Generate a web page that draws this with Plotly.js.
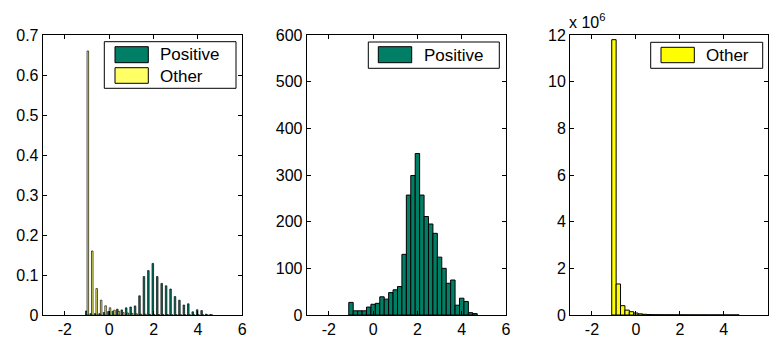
<!DOCTYPE html>
<html>
<head>
<meta charset="utf-8">
<script src="https://cdn.plot.ly/plotly-3.0.1.min.js"></script>
<style>html,body{margin:0;padding:0;background:#fff;}#chart{width:772px;height:340px;}</style>
</head>
<body>
<div id="chart"></div>
<script>
// Bin centres shared by all three histograms
var binCenters = [-1.0,-0.8,-0.6,-0.4,-0.2,0.0,0.2,0.4,0.6,0.8,1.0,1.2,1.4,1.6,1.8,2.0,2.2,2.4,2.6,2.8,3.0,3.2,3.4,3.6,3.8,4.0,4.2,4.4,4.6];

// Left panel: normalised frequencies
var positiveFreq = [0.010,0.0034,0.0034,0.0034,0.0063,0.0086,0.0093,0.0145,0.0127,0.0179,0.020,0.0227,0.048,0.096,0.111,0.129,0.096,0.079,0.073,0.065,0.046,0.037,0.025,0.028,0.008,0.013,0.011,0.002,0.001];
var otherFreq = [0.66,0.16,0.066,0.037,0.023,0.018,0.012,0.009,0.006,0.005,0.004,0.003,0.002,0.002,0.0015,0.001,0.001,0.001,0.0008,0.0006,0.0005,0.0004,0.0003,0.0002,0.0002,0.0001,0.0001,0.0001,0.0001];

// Middle panel: Positive counts
var positiveCounts = [27,9,9,9,17,23,25,39,34,48,54,61,130,257,299,346,257,211,195,175,124,100,68,75,21,36,29,5,3];

// Right panel: Other counts
var otherCounts = [11800000,1330000,400000,210000,140000,85000,50000,30000,20000,15000,12000,10000,9000,8000,7000,6000,6000,5000,5000,4000,4000,4000,3000,3000,3000,2000,2000,2000,2000];

// Tick labels
var xTicks = [-2,0,2,4,6];
var xLabels = ['-2','0','2','4','6'];
var leftYTicks = [0,0.1,0.2,0.3,0.4,0.5,0.6,0.7];
var leftYLabels = ['0','0.1','0.2','0.3','0.4','0.5','0.6','0.7'];
var midYTicks = [0,100,200,300,400,500,600];
var midYLabels = ['0','100','200','300','400','500','600'];
var rightYTicks = [0,2e6,4e6,6e6,8e6,10e6,12e6];
var rightYLabels = ['0','2','4','6','8','10','12'];

var seriesNames = ['Positive','Other'];

var W = 772, H = 340;
function px(x){return x/W;}
function py(y){return 1 - y/H;}

var teal = 'rgb(0,127,102)';
var lightYellow = 'rgb(255,255,102)';
var yellow = 'rgb(255,255,0)';
var font = {family:'"Liberation Sans", Arial, sans-serif', size:16, color:'#000'};

var traces = [
  {type:'bar', x:binCenters, y:positiveFreq, name:seriesNames[0], xaxis:'x', yaxis:'y',
   marker:{color:teal, line:{color:'rgba(0,0,0,0.85)', width:0.8}}, showlegend:false},
  {type:'bar', x:binCenters, y:otherFreq, name:seriesNames[1], xaxis:'x', yaxis:'y',
   marker:{color:lightYellow, line:{color:'rgba(0,0,0,0.85)', width:0.8}}, showlegend:false},
  {type:'bar', x:binCenters, y:positiveCounts, name:seriesNames[0], xaxis:'x2', yaxis:'y2',
   marker:{color:teal, line:{color:'#000', width:1}}, showlegend:false, width:0.2},
  {type:'bar', x:binCenters, y:otherCounts, name:seriesNames[1], xaxis:'x3', yaxis:'y3',
   marker:{color:yellow, line:{color:'#000', width:1}}, showlegend:false, width:0.2}
];

var yDom = [py(315), py(35)];
function xax(dom, anchor){
  return {domain:dom, anchor:anchor, range:[-3,6], tickvals:xTicks, ticktext:xLabels, ticks:'inside', ticklen:4,
    tickcolor:'#000', showline:true, linecolor:'#000', linewidth:1, mirror:'ticks',
    showgrid:false, zeroline:false, tickfont:font, fixedrange:true};
}
function yax(anchor, range, tv, tt){
  return {domain:yDom, anchor:anchor, range:range, tickvals:tv, ticktext:tt, ticks:'inside', ticklen:4,
    tickcolor:'#000', showline:true, linecolor:'#000', linewidth:1, mirror:'ticks',
    showgrid:false, zeroline:false, tickfont:font, fixedrange:true};
}

var shapes = [];
var annotations = [];
function box(x0,y0,x1,y1,fill,lw){
  shapes.push({type:'rect', xref:'paper', yref:'paper', x0:px(x0), x1:px(x1), y0:py(y1), y1:py(y0),
    fillcolor:fill, line:{color:'#000', width:lw}});
}
function label(x,y,t){
  annotations.push({xref:'paper', yref:'paper', x:px(x), y:py(y), text:t, showarrow:false,
    xanchor:'left', yanchor:'middle', font:{family:font.family, size:17, color:'#000'}});
}
// Left legend
box(104.3,41.7,236,88.3,'#fff',1);
box(115,46.7,148.3,62.7,teal,1); label(158,55,seriesNames[0]);
box(115,67.7,148.3,83.3,lightYellow,1); label(158,76,seriesNames[1]);
// Middle legend
box(368.3,42,499.3,68.3,'#fff',1);
box(378.3,46.7,411.7,62.7,teal,1); label(421.5,55.5,seriesNames[0]);
// Right legend
box(650.7,42.3,762.7,68.3,'#fff',1);
box(661,47.3,694.3,62.7,yellow,1); label(704,55.5,seriesNames[1]);
// exponent label
annotations.push({xref:'paper', yref:'paper', x:px(567), y:py(21), text:'x 10<sup>6</sup>', showarrow:false,
  xanchor:'left', yanchor:'middle', font:{family:font.family, size:16, color:'#000'}});

var layout = {
  width:W, height:H, margin:{l:0,r:0,t:0,b:0}, paper_bgcolor:'#fff', plot_bgcolor:'#fff',
  barmode:'group', bargap:0.3, bargroupgap:0,
  showlegend:false,
  xaxis: xax([px(42.7), px(242.3)], 'y'),
  yaxis: yax('x', [0,0.7], leftYTicks, leftYLabels),
  xaxis2: xax([px(306.7), px(506)], 'y2'),
  yaxis2: yax('x2', [0,600], midYTicks, midYLabels),
  xaxis3: xax([px(570), px(767.7)], 'y3'),
  yaxis3: yax('x3', [0,12e6], rightYTicks, rightYLabels),
  shapes: shapes,
  annotations: annotations
};

Plotly.newPlot('chart', traces, layout, {displayModeBar:false, staticPlot:true});
</script>
</body>
</html>
